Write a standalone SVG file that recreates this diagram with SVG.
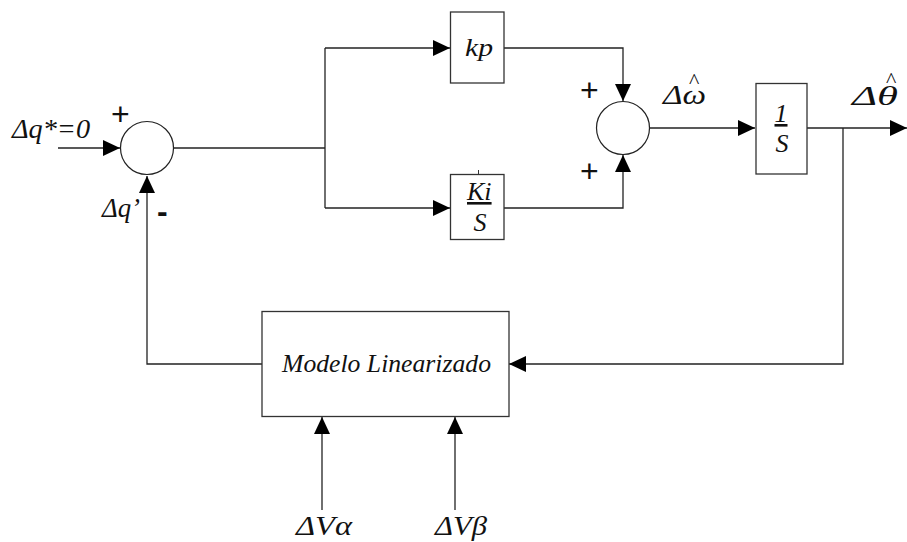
<svg xmlns="http://www.w3.org/2000/svg" width="907" height="542" viewBox="0 0 907 542">
<style>
.box{fill:#fff;stroke:#333;stroke-width:1.3}
.sum{fill:#fff;stroke:#222;stroke-width:1.2}
.ln{fill:none;stroke:#222;stroke-width:1.3}
.t{font-family:"Liberation Serif","DejaVu Serif",serif;font-style:italic;font-size:28px;fill:#111}
.m{font-size:26px}
.hat{font-family:"Liberation Serif","DejaVu Serif",serif;font-style:normal;font-size:22px;fill:#111}
.s{font-family:"Liberation Sans","DejaVu Sans",sans-serif;font-size:32px;fill:#111}
</style>
<defs>
<marker id="ah" markerUnits="userSpaceOnUse" markerWidth="17" markerHeight="16" refX="17" refY="8" orient="auto">
<path d="M0,0 L17,8 L0,16 z" fill="#000"/>
</marker>
</defs>
<rect width="907" height="542" fill="#fff"/>
<g id="connectors">
<path class="ln" d="M58,148 H120" marker-end="url(#ah)"/>
<path class="ln" d="M173,148 H325"/>
<path class="ln" d="M325,48 V208"/>
<path class="ln" d="M325,48 H450" marker-end="url(#ah)"/>
<path class="ln" d="M325,208 H450" marker-end="url(#ah)"/>
<path class="ln" d="M504,48 H623 V101" marker-end="url(#ah)"/>
<path class="ln" d="M504,208 H623 V155" marker-end="url(#ah)"/>
<path class="ln" d="M649,128 H755" marker-end="url(#ah)"/>
<path class="ln" d="M807,128 H907" marker-end="url(#ah)"/>
<path class="ln" d="M843,128 V364 H509" marker-end="url(#ah)"/>
<path class="ln" d="M262,364 H147 V176" marker-end="url(#ah)"/>
<path class="ln" d="M322,510 V417" marker-end="url(#ah)"/>
<path class="ln" d="M455,510 V417" marker-end="url(#ah)"/>
</g>
<g id="sum1">
<circle class="sum" cx="147" cy="148" r="26.5"/>
<text class="s" x="111" y="125">+</text>
<text class="s" x="157" y="222" font-weight="bold" font-size="30">-</text>
</g>
<g id="sum2">
<circle class="sum" cx="623" cy="128" r="26.5"/>
<text class="s" x="580" y="101">+</text>
<text class="s" x="580" y="182">+</text>
</g>
<g id="kp">
<rect class="box" x="450.5" y="12" width="53.5" height="71"/>
<text class="t m" x="465" y="56" textLength="28" lengthAdjust="spacingAndGlyphs">kp</text>
</g>
<g id="ki">
<rect class="box" x="450.5" y="174.5" width="53.5" height="65"/>
<line x1="478.5" y1="170" x2="478.5" y2="174" stroke="#333" stroke-width="1"/>
<text class="t m" x="467" y="200" text-decoration="underline">Ki</text>
<text class="t m" x="480" y="231" text-anchor="middle">S</text>
</g>
<g id="integrator">
<rect class="box" x="756" y="83.5" width="51" height="90.5"/>
<text class="t m" x="781" y="122" text-anchor="middle" text-decoration="underline">1</text>
<text class="t m" x="782" y="152" text-anchor="middle">S</text>
</g>
<g id="modelo">
<rect class="box" x="262" y="311.5" width="247" height="105"/>
<text class="t m" x="282" y="372" textLength="209" lengthAdjust="spacingAndGlyphs">Modelo Linearizado</text>
</g>
<g id="labels">
<text class="t" x="12" y="138" textLength="78" lengthAdjust="spacingAndGlyphs">Δq*=0</text>
<text class="t" x="102" y="217" textLength="38" lengthAdjust="spacingAndGlyphs">Δq’</text>
<text class="t" x="663" y="104"><tspan textLength="43" lengthAdjust="spacingAndGlyphs">Δω</tspan><tspan class="hat" x="689" y="88">^</tspan></text>
<text class="t" x="852" y="105" font-size="31"><tspan textLength="46" lengthAdjust="spacingAndGlyphs">Δθ</tspan><tspan class="hat" x="886" y="87">^</tspan></text>
<text class="t" x="296" y="535" textLength="56" lengthAdjust="spacingAndGlyphs">ΔVα</text>
<text class="t" x="435" y="535" textLength="52" lengthAdjust="spacingAndGlyphs">ΔVβ</text>
</g>
</svg>
